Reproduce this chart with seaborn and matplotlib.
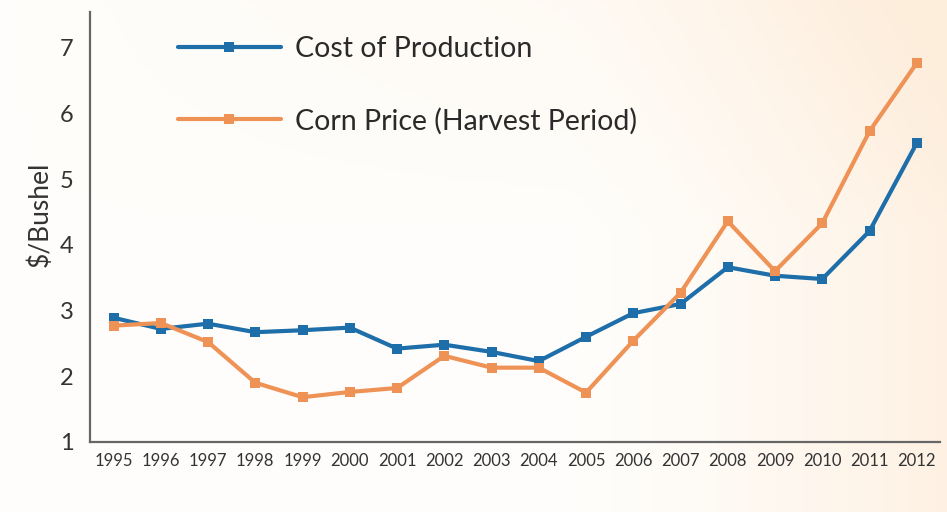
import numpy as np
import pandas as pd
import matplotlib.pyplot as plt
import seaborn as sns

# values ($/bushel)
years = [str(y) for y in range(1995, 2013)]
cost_of_production = [2.89, 2.72, 2.80, 2.67, 2.70, 2.74, 2.42, 2.48, 2.37, 2.23,
                      2.60, 2.96, 3.10, 3.66, 3.53, 3.48, 4.21, 5.55]
corn_price = [2.77, 2.81, 2.52, 1.90, 1.68, 1.76, 1.82, 2.31, 2.13, 2.13,
              1.75, 2.54, 3.27, 4.36, 3.60, 4.33, 5.73, 6.77]
series_names = ['Cost of Production', 'Corn Price (Harvest Period)']
series_colors = ['#1d6ea9', '#ee9256']

df = pd.DataFrame({'Year': years * 2,
                   'Price': cost_of_production + corn_price,
                   'Series': [series_names[0]] * len(years) + [series_names[1]] * len(years)})
df['x'] = df['Year'].map({y: i for i, y in enumerate(years)})

sns.set_style('white')
plt.rcParams['font.family'] = ['Lato', 'DejaVu Sans']

fig = plt.figure(figsize=(9.47, 5.12), dpi=100)

# soft peach wash behind the chart
bg = fig.add_axes([0, 0, 1, 1], zorder=-10)
gx, gy = np.meshgrid(np.linspace(0, 1, 300), np.linspace(0, 1, 160))
wash = np.clip((gx - 0.6) / 0.4, 0, 1) ** 1.3 * 0.75 + np.clip((gy - 0.55) / 0.45, 0, 1) * gx * 0.4
wash = np.clip(wash, 0, 1)
white = np.array([1.0, 0.995, 0.985])
peach = np.array([0.995, 0.93, 0.86])
img = white + wash[..., None] * (peach - white)
bg.imshow(img, aspect='auto', extent=[0, 1, 0, 1], origin='lower')
bg.axis('off')

ax = fig.add_axes([0.095, 0.137, 0.898, 0.84])
ax.patch.set_alpha(0)

sns.lineplot(data=df, x='x', y='Price', hue='Series', palette=series_colors,
             style='Series', markers=['s', 's'], dashes=False, linewidth=3,
             markersize=7, markeredgewidth=0, ax=ax)

ax.set_xlim(-0.5, len(years) - 0.5)
ax.set_ylim(1, 7.55)
ax.set_xticks(range(len(years)))
ax.set_xticklabels(years)
ax.set_xticks(np.arange(0.5, len(years), 1), minor=True)
ax.set_yticks(range(1, 8))

ax.tick_params(axis='x', which='major', length=0, labelsize=12, colors='#333333', pad=8)
ax.tick_params(axis='x', which='minor', direction='in', length=8, width=1.3, color='#666666')
ax.tick_params(axis='y', direction='in', length=14, width=1.3, color='#666666',
               labelsize=17, labelcolor='#333333', pad=12)

for side in ['top', 'right']:
    ax.spines[side].set_visible(False)
for side in ['left', 'bottom']:
    ax.spines[side].set_color('#666666')
    ax.spines[side].set_linewidth(1.6)

ax.set_xlabel('')
ax.set_ylabel('$/Bushel', fontsize=19, color='#333333')
ax.yaxis.set_label_coords(-0.044, 0.53)

handles, labels = ax.get_legend_handles_labels()
ax.legend(handles, labels, loc='upper left', bbox_to_anchor=(178 / 947, 1 - 36 / 512),
          bbox_transform=fig.transFigure, frameon=False, fontsize=20.5,
          handlelength=3.6, handletextpad=0.5, labelspacing=1.6,
          borderpad=0, borderaxespad=0, labelcolor='#2a2a2a')

fig.savefig('out.png', dpi=100)
